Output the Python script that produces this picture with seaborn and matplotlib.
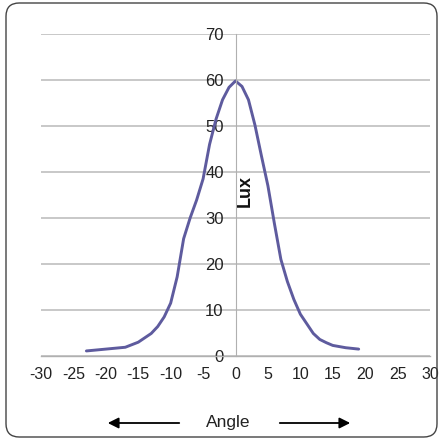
import matplotlib
matplotlib.use('Agg')
import matplotlib.pyplot as plt
from matplotlib.patches import FancyBboxPatch
import seaborn as sns
import pandas as pd

angle = [-23, -17, -15, -13, -12, -11, -10, -9, -8, -7, -6, -5, -4, -3, -2, -1, 0,
         1, 2, 3, 4, 5, 6, 7, 8, 9, 10, 11, 12, 13, 14, 15, 17, 19]
lux = [1.1, 1.9, 3.0, 4.9, 6.4, 8.5, 11.5, 17.2, 25.5, 30.0, 33.9, 38.5, 46.0, 51.5, 55.7, 58.4, 59.8,
       58.6, 55.7, 50.2, 43.5, 37.0, 28.8, 21.0, 16.2, 12.3, 9.1, 7.0, 4.9, 3.6, 2.9, 2.3, 1.8, 1.5]
x_ticks = list(range(-30, 31, 5))
y_ticks = list(range(0, 71, 10))

sns.set_style('white')
plt.rcParams['font.family'] = ['Liberation Sans Narrow', 'Liberation Sans', 'DejaVu Sans']

df = pd.DataFrame({'Angle': angle, 'Lux': lux})

fig = plt.figure(figsize=(4.42, 4.41), dpi=100)
ax = fig.add_axes([41 / 442, 1 - 356 / 441, 389 / 442, 322 / 441])

sns.lineplot(data=df, x='Angle', y='Lux', color='#5e5b9e', linewidth=2.1, ax=ax)
for ln in ax.get_lines():
    ln.set_solid_joinstyle('round')
    ln.set_solid_capstyle('round')

ax.set_xlim(-30, 30)
ax.set_ylim(0, 70)
ax.set_xticks(x_ticks)
ax.set_yticks(y_ticks)
ax.set_xticklabels([str(v) for v in x_ticks])
ax.set_yticklabels([str(v) for v in y_ticks])
ax.yaxis.grid(True, color='#c4c4c4', linewidth=1.3)
ax.xaxis.grid(False)
ax.set_axisbelow(True)

for s in ('top', 'right'):
    ax.spines[s].set_visible(False)
ax.spines['left'].set_position(('data', 0))
ax.spines['left'].set_color('#b0b0b0')
ax.spines['left'].set_linewidth(0.8)
ax.spines['bottom'].set_color('#b0b0b0')
ax.spines['bottom'].set_linewidth(1.0)

ax.tick_params(axis='x', direction='out', length=4, width=0.8, color='#b0b0b0',
               pad=4, labelsize=11.5, labelcolor='#222222')
ax.tick_params(axis='y', direction='inout', length=5, width=0.8, color='#b0b0b0',
               pad=6, labelsize=12, labelcolor='#222222')
ax.set_xlabel('')
ax.set_ylabel('')

fig.text(245 / 442, 1 - 191 / 441, 'Lux', rotation=90, ha='center', va='center',
         fontsize=13, fontweight='bold', color='#111111')
fig.text(228 / 442, 1 - 423 / 441, 'Angle', ha='center', va='center',
         fontsize=12.5, color='#222222')
ax.annotate('', xy=(105 / 442, 1 - 423 / 441), xytext=(182 / 442, 1 - 423 / 441),
            xycoords='figure fraction', textcoords='figure fraction',
            arrowprops=dict(arrowstyle='-|>', color='black', lw=1.3, mutation_scale=16))
ax.annotate('', xy=(353 / 442, 1 - 423 / 441), xytext=(277 / 442, 1 - 423 / 441),
            xycoords='figure fraction', textcoords='figure fraction',
            arrowprops=dict(arrowstyle='-|>', color='black', lw=1.3, mutation_scale=16))

frame = FancyBboxPatch((6 / 442, 1 - 437 / 441), 431 / 442, 434 / 441,
                       boxstyle='round,pad=0,rounding_size=0.03',
                       transform=fig.transFigure, facecolor='none',
                       edgecolor='#444444', linewidth=1.0)
fig.patches.append(frame)

fig.savefig('out.png', dpi=100)
plt.close(fig)
